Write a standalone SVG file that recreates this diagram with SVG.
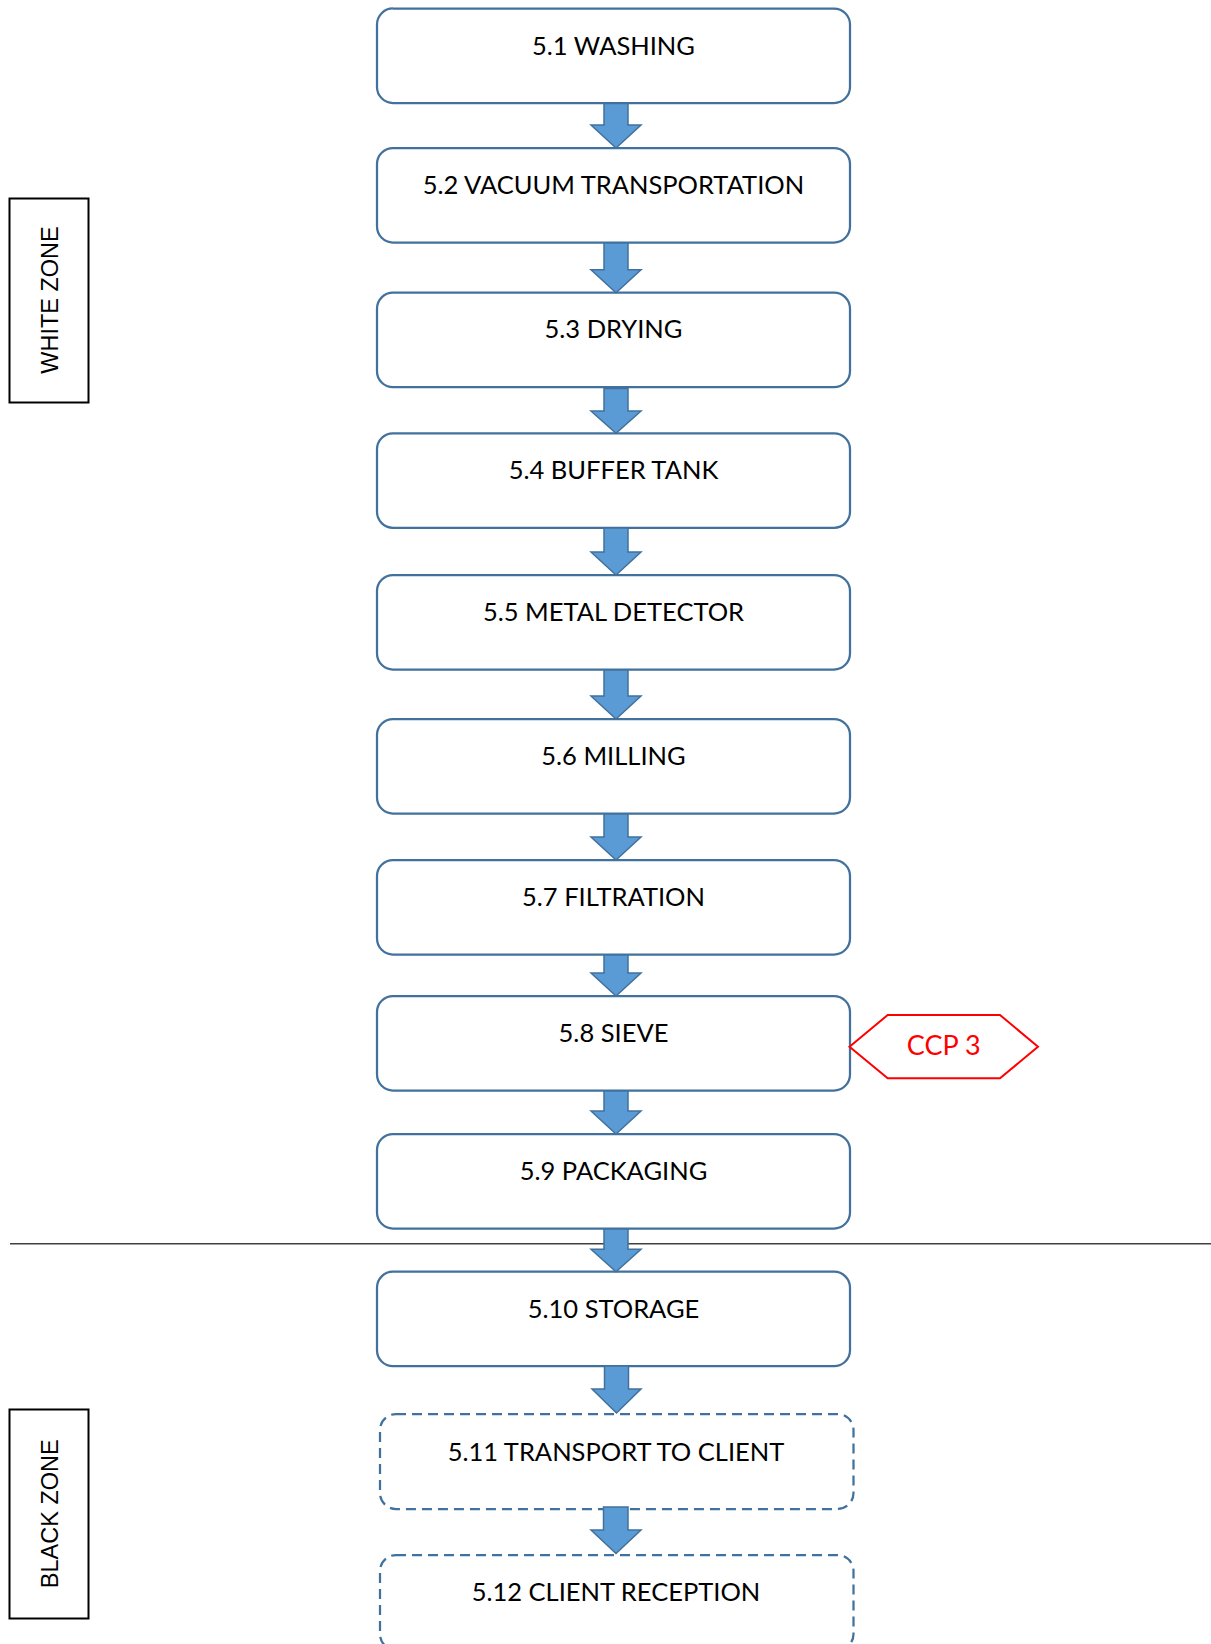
<svg xmlns="http://www.w3.org/2000/svg" width="1211" height="1644" viewBox="0 0 1211 1644">
  <style>
    .step { fill: #ffffff; stroke: #41719c; stroke-width: 2.25; }
    .step.dashed { stroke-dasharray: 10 6; }
    .label { font-family: Lato, "Open Sans", "Liberation Sans", sans-serif; font-size: 25.5px; fill: #000000; text-anchor: middle; }
    .flow { fill: #5b9bd5; stroke: #41719c; stroke-width: 1.5; stroke-linejoin: miter; }
    .zone { fill: #ffffff; stroke: #000000; stroke-width: 2; }
    .zone-label { font-family: "Liberation Sans", Arial, sans-serif; font-size: 23.5px; fill: #000000; text-anchor: middle; }
    .ccp { fill: #ffffff; stroke: #ff0000; stroke-width: 2; }
    .ccp-label { font-family: Lato, "Open Sans", "Liberation Sans", sans-serif; font-size: 27px; fill: #ff0000; text-anchor: middle; }
  </style>

  <!-- zone boundary -->
  <line x1="10" y1="1243.7" x2="1211" y2="1243.7" stroke="#404040" stroke-width="1.5"/>

  <!-- zone labels -->
  <g id="white-zone">
    <rect class="zone" x="9.5" y="198.5" width="79" height="204"/>
    <text class="zone-label" transform="translate(57.5,300) rotate(-90)" x="0" y="0">WHITE ZONE</text>
  </g>
  <g id="black-zone">
    <rect class="zone" x="9.5" y="1409.5" width="79" height="209"/>
    <text class="zone-label" transform="translate(57.5,1513.7) rotate(-90)" x="0" y="0">BLACK ZONE</text>
  </g>

  <!-- process steps -->
  <g id="step-5-1">
    <rect class="step" x="377" y="8.5" width="473" height="94.5" rx="16"/>
    <text class="label" x="613.5" y="54.5">5.1 WASHING</text>
  </g>
  <g id="step-5-2">
    <rect class="step" x="377" y="148" width="473" height="94.5" rx="16"/>
    <text class="label" x="613.5" y="194">5.2 VACUUM TRANSPORTATION</text>
  </g>
  <g id="step-5-3">
    <rect class="step" x="377" y="292.7" width="473" height="94.5" rx="16"/>
    <text class="label" x="613.5" y="338.3">5.3 DRYING</text>
  </g>
  <g id="step-5-4">
    <rect class="step" x="377" y="433.3" width="473" height="94.5" rx="16"/>
    <text class="label" x="613.5" y="479">5.4 BUFFER TANK</text>
  </g>
  <g id="step-5-5">
    <rect class="step" x="377" y="575" width="473" height="94.5" rx="16"/>
    <text class="label" x="613.5" y="620.5">5.5 METAL DETECTOR</text>
  </g>
  <g id="step-5-6">
    <rect class="step" x="377" y="719" width="473" height="94.5" rx="16"/>
    <text class="label" x="613.5" y="764.5">5.6 MILLING</text>
  </g>
  <g id="step-5-7">
    <rect class="step" x="377" y="860" width="473" height="94.5" rx="16"/>
    <text class="label" x="613.5" y="905.5">5.7 FILTRATION</text>
  </g>
  <g id="step-5-8">
    <rect class="step" x="377" y="996" width="473" height="94.5" rx="16"/>
    <text class="label" x="613.5" y="1042">5.8 SIEVE</text>
  </g>
  <g id="step-5-9">
    <rect class="step" x="377" y="1134" width="473" height="94.5" rx="16"/>
    <text class="label" x="613.5" y="1180">5.9 PACKAGING</text>
  </g>
  <g id="step-5-10">
    <rect class="step" x="377" y="1271.7" width="473" height="94.5" rx="16"/>
    <text class="label" x="613.5" y="1317.5">5.10 STORAGE</text>
  </g>
  <g id="step-5-11">
    <rect class="step dashed" x="380" y="1414" width="473.5" height="95" rx="16"/>
    <text class="label" x="616" y="1460.5">5.11 TRANSPORT TO CLIENT</text>
  </g>
  <g id="step-5-12">
    <rect class="step dashed" x="380" y="1555" width="473.5" height="95" rx="16"/>
    <text class="label" x="616" y="1600.5">5.12 CLIENT RECEPTION</text>
  </g>

  <!-- critical control point marker -->
  <g id="ccp-3">
    <polygon class="ccp" points="849.5,1046.7 887.7,1015 1000,1015 1038,1046.7 1000,1078.3 887.7,1078.3"/>
    <text class="ccp-label" x="943.7" y="1054.5">CCP 3</text>
  </g>

  <!-- block arrows between steps -->
  <g id="connectors">
    <path class="flow" d="M604,103.5 H628 V125 H641 L616,148 L591,125 H604 Z"/>
    <path class="flow" d="M604,243 H628 V269.7 H641 L616,292.7 L591,269.7 H604 Z"/>
    <path class="flow" d="M604,388.5 H628 V411 H641 L616,433.3 L591,411 H604 Z"/>
    <path class="flow" d="M604,528 H628 V552 H641 L616,575 L591,552 H604 Z"/>
    <path class="flow" d="M604,670 H628 V696 H641 L616,719 L591,696 H604 Z"/>
    <path class="flow" d="M604,814 H628 V837 H641 L616,860 L591,837 H604 Z"/>
    <path class="flow" d="M604,955 H628 V973 H641 L616,996 L591,973 H604 Z"/>
    <path class="flow" d="M604,1091 H628 V1111 H641 L616,1134 L591,1111 H604 Z"/>
    <path class="flow" d="M604,1229 H628 V1249.3 H641 L616,1271.7 L591,1249.3 H604 Z"/>
    <path class="flow" d="M604.5,1366 H628.5 V1389 H641 L616.5,1413 L592,1389 H604.5 Z"/>
    <path class="flow" d="M603.5,1507 H628 V1530 H641 L616,1553.5 L591,1530 H603.5 Z"/>
  </g>
</svg>
